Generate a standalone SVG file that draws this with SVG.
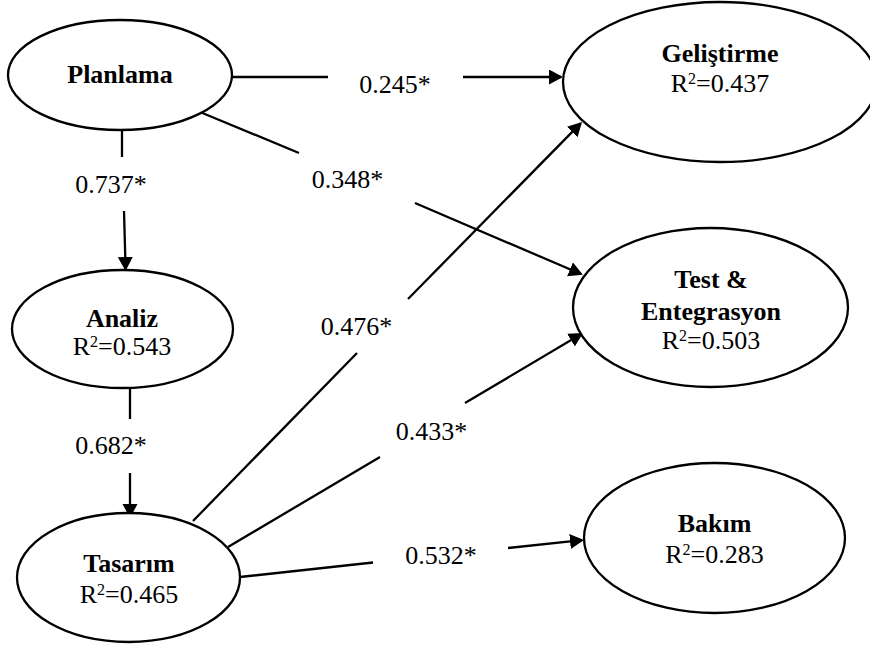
<svg xmlns="http://www.w3.org/2000/svg" width="870" height="646" viewBox="0 0 870 646">
  <defs>
    <style>
      .node ellipse { fill: #ffffff; stroke: #000000; stroke-width: 2.3; }
      text { font-family: 'Liberation Serif', 'Tinos', 'Nimbus Roman', 'DejaVu Serif', serif; font-size: 26px; fill: #000000; text-anchor: middle; }
      .title { font-weight: bold; }
      .sup { font-size: 16px; }
      .edge { fill: none; stroke: #000000; stroke-width: 2.3; marker-end: url(#arrow); }
    </style>
    <marker id="arrow" markerUnits="userSpaceOnUse" markerWidth="16" markerHeight="16" refX="12" refY="7.5" orient="auto">
      <path d="M0,0 L14,7.5 L0,15 Z" fill="#000000"/>
    </marker>
  </defs>

  <rect width="870" height="646" fill="#ffffff"/>

  <!-- path coefficients (each line is broken where its label sits) -->
  <g id="connectors">
    <path class="edge" d="M232,77 L328,77 M463,77 L561,77"/>
    <path class="edge" d="M200,112 L299,153 M415,203 L581,274"/>
    <path class="edge" d="M122,130 L122,157 M124,211 L125.6,269"/>
    <path class="edge" d="M130,388 L130,419 M130,473 L130,516"/>
    <path class="edge" d="M193,521 L357,353 M408,299 L580.6,123.4"/>
    <path class="edge" d="M228,547 L380,457 M465,403 L581.3,334"/>
    <path class="edge" d="M240,577 L373,562.5 M508,548 L582,540.2"/>
  </g>

  <g id="edge-labels">
    <text x="395" y="93">0.245*</text>
    <text x="347.5" y="188">0.348*</text>
    <text x="111" y="193">0.737*</text>
    <text x="111" y="454">0.682*</text>
    <text x="356.5" y="335">0.476*</text>
    <text x="431.5" y="440">0.433*</text>
    <text x="441" y="564">0.532*</text>
  </g>

  <g id="planlama" class="node">
    <ellipse cx="120" cy="75" rx="112" ry="55"/>
    <text class="title" x="120" y="83">Planlama</text>
  </g>

  <g id="gelistirme" class="node">
    <ellipse cx="720" cy="82" rx="157" ry="80"/>
    <text class="title" x="720" y="62">Geliştirme</text>
    <text x="720" y="92">R<tspan class="sup" dy="-8">2</tspan><tspan dy="8">=0.437</tspan></text>
  </g>

  <g id="test-entegrasyon" class="node">
    <ellipse cx="710.5" cy="307.5" rx="137.5" ry="79.5"/>
    <text class="title" x="711" y="288">Test &amp;</text>
    <text class="title" x="711" y="320">Entegrasyon</text>
    <text x="711" y="349">R<tspan class="sup" dy="-8">2</tspan><tspan dy="8">=0.503</tspan></text>
  </g>

  <g id="analiz" class="node">
    <ellipse cx="122.5" cy="329" rx="110.5" ry="59"/>
    <text class="title" x="122" y="327">Analiz</text>
    <text x="122" y="355">R<tspan class="sup" dy="-8">2</tspan><tspan dy="8">=0.543</tspan></text>
  </g>

  <g id="tasarim" class="node">
    <ellipse cx="128.5" cy="577.5" rx="111.5" ry="64.5"/>
    <text class="title" x="129" y="572">Tasarım</text>
    <text x="129" y="603">R<tspan class="sup" dy="-8">2</tspan><tspan dy="8">=0.465</tspan></text>
  </g>

  <g id="bakim" class="node">
    <ellipse cx="714.5" cy="538" rx="130.5" ry="75"/>
    <text class="title" x="714.5" y="532">Bakım</text>
    <text x="714.5" y="563">R<tspan class="sup" dy="-8">2</tspan><tspan dy="8">=0.283</tspan></text>
  </g>
</svg>
